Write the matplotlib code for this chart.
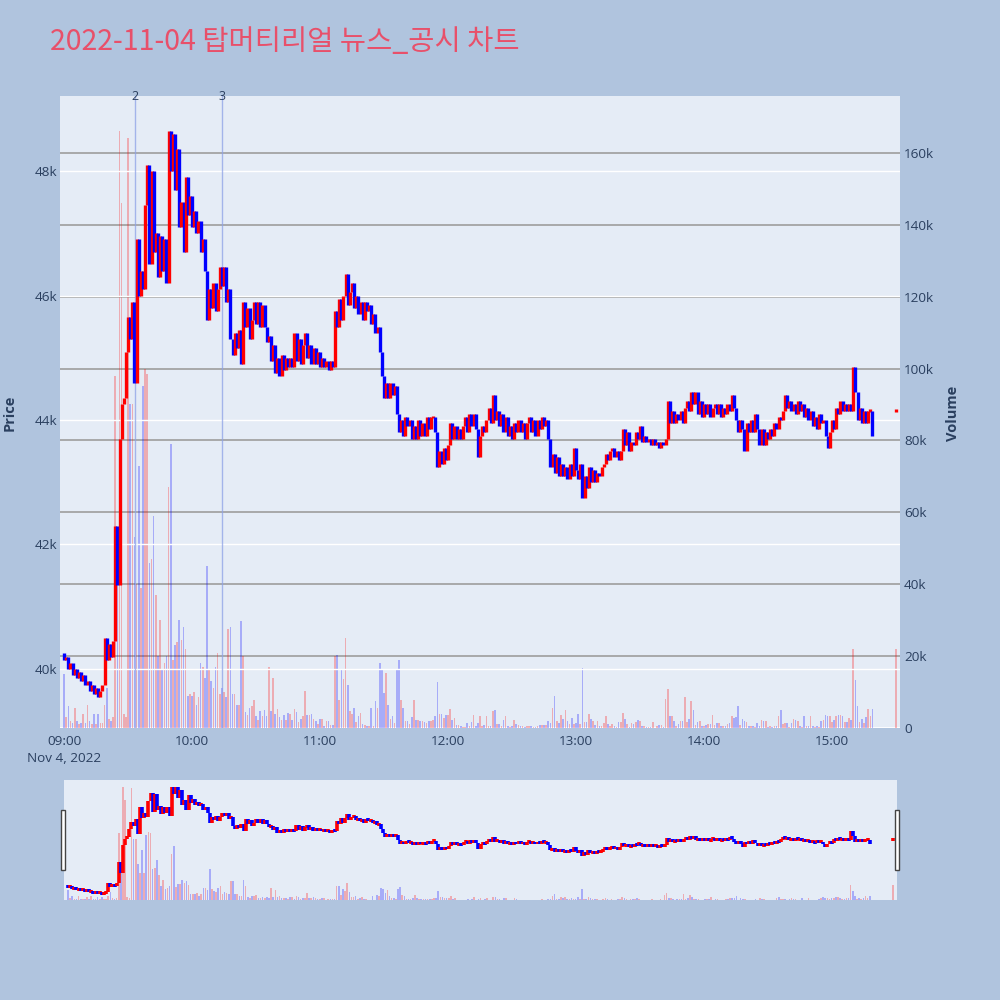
import matplotlib
matplotlib.use("Agg")
import matplotlib.pyplot as plt
from matplotlib.patches import Rectangle
import numpy as np

plt.rcParams['font.family'] = ['Open Sans', 'Noto Sans CJK KR', 'DejaVu Sans']

# ---------------- data ----------------
title = "2022-11-04 탑머티리얼 뉴스_공시 차트"

open_first = 40250
# minute closes from 09:00 (minute 0) to 15:19 (minute 379)
closes = [
    40150, 40200, 40000, 40100, 39900, 40000, 39850, 39950, 39800, 39900,
    39750, 39800, 39650, 39750, 39600, 39700, 39550, 39650, 39750, 40500,
    40150, 40400, 40200, 40450, 42300, 41350, 43700, 44250, 44350, 45100,
    45650, 45300, 45900, 44600, 46900, 46000, 46400, 46100, 47450, 48100,
    46500, 48000, 46700, 47000, 46300, 46950, 46400, 46900, 46200, 48650,
    48000, 48600, 47700, 48350, 47100, 47500, 46700, 47900, 47300, 47600,
    47100, 47350, 47000, 47200, 46700, 46900, 46400, 45600, 46100, 45800,
    46200, 45750, 46100, 46450, 46150, 46450, 45900, 46100, 45300, 45050,
    45400, 45150, 45450, 44900, 45900, 45500, 45800, 45300, 45600, 45900,
    45550, 45900, 45500, 45850, 45500, 45250, 45350, 44950, 45200, 44750,
    45000, 44700, 45050, 44800, 45000, 44850, 45000, 44850, 45400, 44950,
    45300, 44900, 45200, 45400, 45000, 45200, 44900, 45150, 44900, 45100,
    44850, 45000, 44850, 44950, 44800, 44950, 44850, 45750, 45500, 45950,
    45600, 46000, 46350, 45850, 46050, 46200, 45800, 46000, 45700, 45900,
    45600, 45900, 45750, 45850, 45550, 45700, 45400, 45500, 45100, 44700,
    44350, 44600, 44350, 44600, 44400, 44550, 44100, 43800, 44000, 43750,
    44050, 43900, 44000, 43700, 43900, 43700, 44000, 43750, 43950, 43750,
    44050, 43850, 44050, 44050, 43800, 43250, 43500, 43300, 43550, 43350,
    43600, 43950, 43700, 43900, 43700, 43850, 43700, 43900, 44050, 43800,
    44100, 43900, 44100, 43850, 43400, 43750, 43900, 43800, 44000, 44200,
    43950, 44400, 44000, 44150, 43900, 44100, 43800, 44050, 43750, 43900,
    43700, 43950, 43800, 44000, 43800, 43950, 43700, 43950, 44050, 43800,
    44000, 43750, 44000, 43850, 44050, 43900, 44000, 43700, 43250, 43450,
    43150, 43400, 43100, 43300, 43100, 43250, 43050, 43300, 43100, 43550,
    43200, 43050, 43300, 42750, 43100, 42900, 43250, 43000, 43200, 43000,
    43150, 43100, 43250, 43300, 43450, 43350, 43500, 43550, 43400, 43500,
    43350, 43500, 43850, 43600, 43800, 43500, 43650, 43600, 43800, 43700,
    43900, 43650, 43750, 43650, 43700, 43600, 43700, 43600, 43650, 43550,
    43650, 43600, 43700, 44300, 43950, 44150, 43950, 44100, 44000, 44150,
    43950, 44200, 44300, 44150, 44450, 44250, 44450, 44100, 44300, 44050,
    44250, 44100, 44250, 44050, 44200, 44250, 44100, 44250, 44050, 44200,
    44100, 44250, 44150, 44400, 44200, 44000, 43800, 44000, 43850, 43500,
    43950, 43800, 44000, 43800, 44100, 43850, 43600, 43850, 43600, 43800,
    43700, 43850, 43750, 43950, 43850, 44050, 44000, 44150, 44400, 44200,
    44300, 44150, 44250, 44100, 44300, 44150, 44250, 44050, 44200, 44000,
    44150, 43900, 44050, 43850, 44100, 43950, 44000, 43750, 43550, 43800,
    44000, 43850, 44200, 44100, 44300, 44150, 44250, 44150, 44250, 44150,
    44850, 44450, 44000, 44200, 43950, 44150, 43950, 44150, 44150, 43750,
]

# minute volumes in thousands of shares
volumes_k = [
    15, 3, 6, 2, 1.5, 5.5, 2, 1, 1.5, 4,
    1.5, 6.5, 2, 1, 4, 1, 4, 1.5, 1.5, 6.5,
    11, 2.5, 2, 3, 98, 49, 166, 146, 4, 3,
    164, 90, 90, 53, 40, 73, 39, 95, 100, 98.5,
    46, 47, 59, 37, 20, 30, 16, 18, 20, 67,
    79, 19, 23, 24, 30, 24.5, 28, 22, 9, 9.5,
    9, 10, 6.5, 8.5, 18, 17, 14, 45, 16, 13,
    11, 17, 21, 9.5, 11, 10, 8.5, 27.6, 28, 9.5,
    9.5, 6.5, 6.5, 29.7, 20, 4.5, 3.5,
    5.5, 6, 7.9, 3.2, 2.3, 4.6, 3.4, 5.1, 3.2, 17,
    4.6, 14, 4, 5.3, 3.1, 2.3, 3.5, 2.1, 4.3, 3.8,
    2.1, 5.3, 4.4, 1.6, 2.6, 3.4, 10.4, 3.5, 3.5, 4,
    2.5, 1.9, 1.1, 2.6, 2.6, 0.6, 1.9, 2, 0.9, 0.8,
    20, 20.4, 7.9, 16.4, 13.6, 25, 11.9, 4.6, 3.9, 5.6,
    1.7, 3.4, 4.2, 1.2, 0.9, 0.6, 0.5, 5.7, 0.6, 7.6,
    5.6, 18.2, 16, 9.7, 15.3, 6.5, 2.6, 3.4, 1.4, 16,
    18.8, 7.8, 5.6, 2, 1.9, 1.2, 3.1, 7.9, 2.3, 2.1,
    1.9, 2, 1.7, 1.4, 2, 1.9, 2.3, 3.4, 12.9, 3.9,
    3.9, 2.8, 3.5, 3.5, 5.3, 2.1, 2.7, 0.7, 0.7, 0.6,
    0.3, 0.3, 1.4, 0.5, 1.6, 3.7, 0.6, 1.4, 3.2, 0.5,
    0.9, 3.2, 0.5, 0.5, 4.8, 4.9, 1.2, 1.2, 0.6, 2.3,
    3.4, 0.5, 0.3, 0.5, 2.3, 1.2, 0.7, 0.5, 0.5, 0.3,
    0.5, 0.5, 0.5, 0.3, 0.3, 0.5, 0.7, 0.8, 0.7, 0.7,
    1.9, 1.4, 5.6, 9, 2, 1.4, 3.7, 2.5, 5.1, 2,
    1.2, 2.8, 1.2, 1.4, 3.9,
    1.2, 16.7, 1.6, 1.6, 3.9, 2.5, 1.9, 0.9, 2, 0.5,
    0.5, 1.4, 3.2, 1.2, 0.5, 1.2, 0.6, 0.3, 1.6, 1.7,
    4.2, 2.6, 1.2, 0.3, 1.4, 1.2, 1.6, 2.3, 1.9, 0.6,
    0.6, 0.3, 0.3, 0.3, 1.6, 0.1, 0.5, 0.7, 0.9, 0.3,
    8, 10.9, 3.4, 3.4, 1.9, 0.5, 1.1, 1.9, 1.9, 8.6,
    1.6, 2.6, 7.4, 4.9, 0.9, 1.6, 1.9, 0.5, 0.6, 0.8,
    1.1, 1.2, 3.7, 0.7, 1.4, 1.4, 0.6, 0.6, 0.5, 1.1,
    1.4, 3.2, 2.8, 3.1, 6, 0.7, 2.5, 2, 1.6, 0.5,
    0.6, 0.6, 0.4, 1.4, 0.5, 2.3, 1.9, 1.9, 0.3, 0.5,
    0.3, 0.6, 0.6, 3.2, 5.1, 1, 1.4, 1.4, 0.3, 1.4,
    2.5, 2.1, 1.9, 0.6, 0.3, 3.2, 0.5, 0.5, 3.4, 0.5,
    0.3, 0.5, 0.3, 1.9, 2.3, 3.7, 3.4, 3.4, 1.6, 2.3,
    3.4, 3.7, 3.7, 3.4, 1.6, 1.6, 2.8, 2.3,
    22, 13.4, 6.2, 1.6, 2.5, 1.4, 3, 5.3, 3.4, 5.3,
]

# closing auction at 15:30
auction_minute = 390
auction_price = 44150
auction_volume_k = 22

news_minutes = [33.3, 74.1]
news_labels = ["2", "3"]

price_ticks = [40000, 42000, 44000, 46000, 48000]
price_tick_labels = ["40k", "42k", "44k", "46k", "48k"]
vol_ticks = [0, 20000, 40000, 60000, 80000, 100000, 120000, 140000, 160000]
vol_tick_labels = ["0", "20k", "40k", "60k", "80k", "100k", "120k", "140k", "160k"]
time_ticks = [0, 60, 120, 180, 240, 300, 360]
time_labels = ["09:00\nNov 4, 2022", "10:00", "11:00", "12:00", "13:00", "14:00", "15:00"]

# ---------------- assemble ----------------
minutes = list(range(len(closes))) + [auction_minute]
close_arr = np.array(closes + [auction_price], dtype=float)
open_arr = np.concatenate([[open_first], closes[:-1], [auction_price]]).astype(float)
vol_arr = np.array(volumes_k + [auction_volume_k], dtype=float) * 1000
mins = np.array(minutes, dtype=float)
up = close_arr >= open_arr

RED = "#FF0000"
BLUE = "#0000FF"
BG = "#B0C4DE"
PLOT_BG = "#E5ECF6"
TXT = "#2A3F5F"
VGRID = "#A3A3A3"

XMIN, XMAX = -1.9, 391.9
PMIN, PMAX = 39052, 49205
VMIN, VMAX = 0, 175800

fig = plt.figure(figsize=(10, 10), dpi=100, facecolor=BG)


def draw_panel(ax_v, ax_p, stroke_lw, vol_w, min_h):
    ax_v.set_facecolor(PLOT_BG)
    ax_v.set_xlim(XMIN, XMAX)
    ax_v.set_ylim(VMIN, VMAX)
    ax_p.set_xlim(XMIN, XMAX)
    ax_p.set_ylim(PMIN, PMAX)
    ax_p.patch.set_visible(False)
    for a in (ax_v, ax_p):
        for s in a.spines.values():
            s.set_visible(False)
    colors = [RED if u else BLUE for u in up]
    ax_v.bar(mins, vol_arr, width=vol_w, color=colors, alpha=0.27, linewidth=0, zorder=2)
    lo = np.minimum(open_arr, close_arr)
    hi = np.maximum(open_arr, close_arr)
    mid = (lo + hi) / 2
    half = np.maximum((hi - lo) / 2, min_h / 2)
    lc = ax_p.vlines(mins, mid - half, mid + half, colors=colors, linewidth=stroke_lw, zorder=4)
    lc.set_capstyle('butt')


# main panel
ax_v = fig.add_axes([0.060, 0.272, 0.840, 0.632])
ax_p = ax_v.twinx()
draw_panel(ax_v, ax_p, 2.4, 0.75, 40)

for v in vol_ticks[1:]:
    ax_v.axhline(v, color=VGRID, lw=1.3, zorder=1)
ax_v.axhline(0, color="white", lw=2.0, zorder=1.5)
for p in price_ticks:
    ax_p.axhline(p, color="white", lw=1.0, zorder=1)

ax_v.yaxis.tick_right()
ax_v.set_yticks(vol_ticks)
ax_v.set_yticklabels(vol_tick_labels)
ax_v.tick_params(axis='y', length=0, pad=3, labelcolor=TXT, labelsize=9.7)
ax_v.set_xticks(time_ticks)
ax_v.set_xticklabels(time_labels, linespacing=1.4)
ax_v.tick_params(axis='x', length=0, pad=5, labelcolor=TXT, labelsize=9.7)

ax_p.yaxis.tick_left()
ax_p.set_yticks(price_ticks)
ax_p.set_yticklabels(price_tick_labels)
ax_p.tick_params(axis='y', length=0, pad=2, labelcolor=TXT, labelsize=9.7,
                 left=True, right=False, labelleft=True, labelright=False)
ax_p.tick_params(axis='x', bottom=False, labelbottom=False)

for m, lab in zip(news_minutes, news_labels):
    ax_p.axvline(m, color="#8DA2E6", lw=1.0, alpha=0.75, zorder=2)
    ax_p.text(m, 1.0, lab, transform=ax_p.get_xaxis_transform(), ha='center',
              va='center', fontsize=9, color=TXT, clip_on=False, zorder=6)

fig.text(0.050, 0.958, title, fontsize=20.5, color="#E8506A", ha='left', va='center',
         family=['Noto Sans CJK KR', 'DejaVu Sans'])
fig.text(0.010, 0.587, "Price", rotation=90, ha='center', va='center',
         fontsize=10.5, fontweight='bold', color=TXT)
fig.text(0.953, 0.587, "Volume", rotation=90, ha='center', va='center',
         fontsize=10.5, fontweight='bold', color=TXT)

# range slider
ax_sv = fig.add_axes([0.064, 0.100, 0.833, 0.120])
ax_sp = ax_sv.twinx()
draw_panel(ax_sv, ax_sp, 2.6, 0.75, 250)
for a in (ax_sv, ax_sp):
    a.set_xticks([])
    a.set_yticks([])

for xc in (0.0625, 0.897):
    fig.add_artist(Rectangle((xc - 0.002, 0.130), 0.004, 0.060, transform=fig.transFigure,
                             facecolor="white", edgecolor="#444444", linewidth=1.0))

fig.savefig("out.png", dpi=100, facecolor=BG)
